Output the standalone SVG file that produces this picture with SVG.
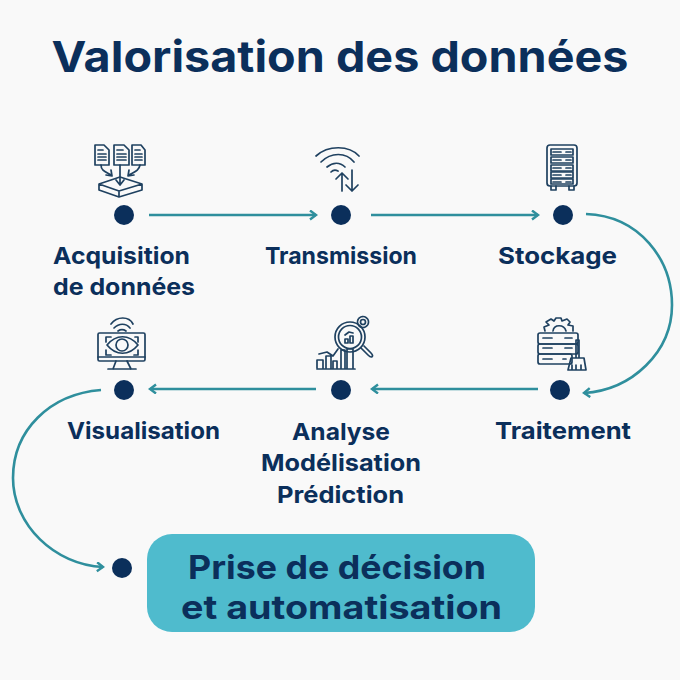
<svg xmlns="http://www.w3.org/2000/svg" width="680" height="680" viewBox="0 0 680 680">
<defs>
<marker id="arr" markerWidth="12" markerHeight="12" refX="9" refY="5" orient="auto" markerUnits="userSpaceOnUse"><path d="M3 .5 L9 5 L3 9.500" fill="none" stroke="#2f8f9d" stroke-width="2.400"/></marker>
</defs>
<style>
text{font-family:"Inter","Liberation Sans",sans-serif;font-weight:700;fill:#0b2f5b;text-anchor:middle}
.lb{font-size:23.500px}
.dot{fill:#0b2f5b}
.ic{fill:none;stroke:#1f4160;stroke-width:1.700;stroke-linejoin:round;stroke-linecap:round}
.cn{fill:none;stroke:#2f8f9d;stroke-width:2.600;marker-end:url(#arr)}
</style>
<rect width="680" height="680" fill="#f9f9f9"/>
<text id="title" x="340" y="72" font-size="43" textLength="577" lengthAdjust="spacingAndGlyphs">Valorisation des données</text>
<g id="connectors">
<path class="cn" d="M149 215H316"/>
<path class="cn" d="M371 215H538"/>
<path class="cn" d="M586 214C640 216 672 260 672 305C672 352 632 390 584 393"/>
<path class="cn" d="M538 389H372"/>
<path class="cn" d="M316 389H150"/>
<path class="cn" d="M101 390C50 394 13 430 13 478C13 525 55 565 103 567"/>
</g>
<g id="n-acquisition">
<g class="ic">
<path d="M95 145H104L109 150V165H95ZM98 150H103M98 154H106M98 157H106M98 160H106"/>
<path d="M114 145H124L129 150V165H114ZM117 150H123M117 154H126M117 157H126M117 160H126"/>
<path d="M132 145H141L145 150V165H132ZM135 150H140M135 154H142M135 157H142M135 160H142"/>
<path d="M120 165V184M116 180L120 185L124 180"/>
<path d="M101 165C101 171 106 172 111 175M106 175L112 176L111 170"/>
<path d="M140 165C139 171 134 172 129 175M129 170L128 176L134 175"/>
<path d="M120 177L142 184L119 191L99 184ZM99 184V190L119 197L142 190V184M119 191V197"/>
</g>
<circle class="dot" cx="124" cy="215" r="10"/>
<text class="lb" x="121.500" y="264" textLength="137" lengthAdjust="spacingAndGlyphs">Acquisition</text><text class="lb" x="124" y="295" textLength="142" lengthAdjust="spacingAndGlyphs">de données</text>
</g>
<g id="n-transmission">
<g class="ic">
<path d="M316 156C328 145 349 145 359 156M321 162C331 152 346 152 354 162M327 167C333 162 340 162 345 167M331 172C333 170 336 170 338 171"/>
<path d="M342 191V173M336 179L342 173L348 179M352 170V191M346 185L352 191L358 185"/>
</g>
<circle class="dot" cx="341" cy="215" r="10"/>
<text class="lb" x="341" y="264" textLength="152" lengthAdjust="spacingAndGlyphs">Transmission</text>
</g>
<g id="n-stockage">
<g class="ic">
<rect x="547" y="145" width="30" height="41" rx="3"/>
<rect x="551" y="149" width="22" height="6"/><rect x="551" y="157" width="22" height="6"/><rect x="551" y="165" width="22" height="6"/><rect x="551" y="172" width="22" height="6"/><rect x="551" y="179" width="22" height="5"/>
<path d="M553 152H561M566 152H571M553 160H561M566 160H571M553 168H561M566 168H571M553 175H561M566 175H571M553 182H561M566 182H571"/>
<path d="M551 186V190H556V186M569 186V190H574V186"/>
</g>
<circle class="dot" cx="563" cy="215" r="10"/>
<text class="lb" x="557.500" y="264" textLength="119" lengthAdjust="spacingAndGlyphs">Stockage</text>
</g>
<g id="n-traitement">
<g class="ic">
<path d="M545 331L544 327L549 325L546 322L551 319L554 321L556 318H561L562 321L567 319L570 322L568 325L573 326L573 331M553 331C554 324 564 324 566 331"/>
<rect x="538" y="333" width="40" height="11" rx="2"/><rect x="538" y="344" width="40" height="10" rx="2"/><rect x="538" y="354" width="34" height="10" rx="2"/>
<path d="M543 338H552M565 338H572M543 348H552M565 348H572M543 359H552M563 359H566"/>
<path d="M576 340H579V358H576ZM571 358H584L586 370H568ZM572 370V365M576 370V365M581 370V365"/>
</g>
<circle class="dot" cx="560" cy="390" r="10"/>
<text class="lb" x="563" y="439" textLength="136" lengthAdjust="spacingAndGlyphs">Traitement</text>
</g>
<g id="n-analyse">
<g class="ic">
<circle cx="350" cy="337" r="15"/><circle cx="350" cy="337" r="11.500"/>
<path d="M361 348L368 355C372 359 374 356 371 353L364 346"/>
<path d="M345 343V339H348V343ZM350 343V336H353V343ZM345 335L349 332L353 333"/>
<circle cx="363" cy="322" r="2.500"/><circle cx="363" cy="322" r="5.500" stroke-dasharray="2.500 1"/>
<path d="M317 369H355M317 368V360H323V368M326 368V356H331V368M333 368V361H337V368M341 368V350H345V368M347 368V349H353V368M319 354L327 352L333 356L338 349"/>
</g>
<circle class="dot" cx="341" cy="390" r="10"/>
<text class="lb" x="341" y="440" textLength="98" lengthAdjust="spacingAndGlyphs">Analyse</text><text class="lb" x="341" y="471" textLength="160" lengthAdjust="spacingAndGlyphs">Modélisation</text><text class="lb" x="340.500" y="503" textLength="127" lengthAdjust="spacingAndGlyphs">Prédiction</text>
</g>
<g id="n-visualisation">
<g class="ic">
<path d="M111 324C117 316 129 316 133 324M114 328C119 323 126 323 130 328M118 331C121 329 123 329 126 331"/>
<rect x="98" y="333" width="47" height="28" rx="1.500"/>
<path d="M98 357H145M116 361L113 369M127 361L131 369M108 369H136"/>
<path d="M106 342V337H111M138 337H135M138 337V342M106 350V355H111M138 350V355H134"/>
<path d="M107 345C116 334 129 334 138 345C129 356 116 356 107 345Z"/>
<circle cx="122" cy="345" r="6"/>
</g>
<circle class="dot" cx="124" cy="390" r="10"/>
<text class="lb" x="143.500" y="439" textLength="153" lengthAdjust="spacingAndGlyphs">Visualisation</text>
</g>
<g id="n-decision">
<circle class="dot" cx="122" cy="568" r="10"/>
<rect x="147" y="534" width="388" height="98" rx="25" fill="#4fbbcd"/>
<text x="337" y="579" font-size="33" textLength="298" lengthAdjust="spacingAndGlyphs">Prise de décision</text>
<text x="341.500" y="619" font-size="33" textLength="321" lengthAdjust="spacingAndGlyphs">et automatisation</text>
</g>
</svg>
